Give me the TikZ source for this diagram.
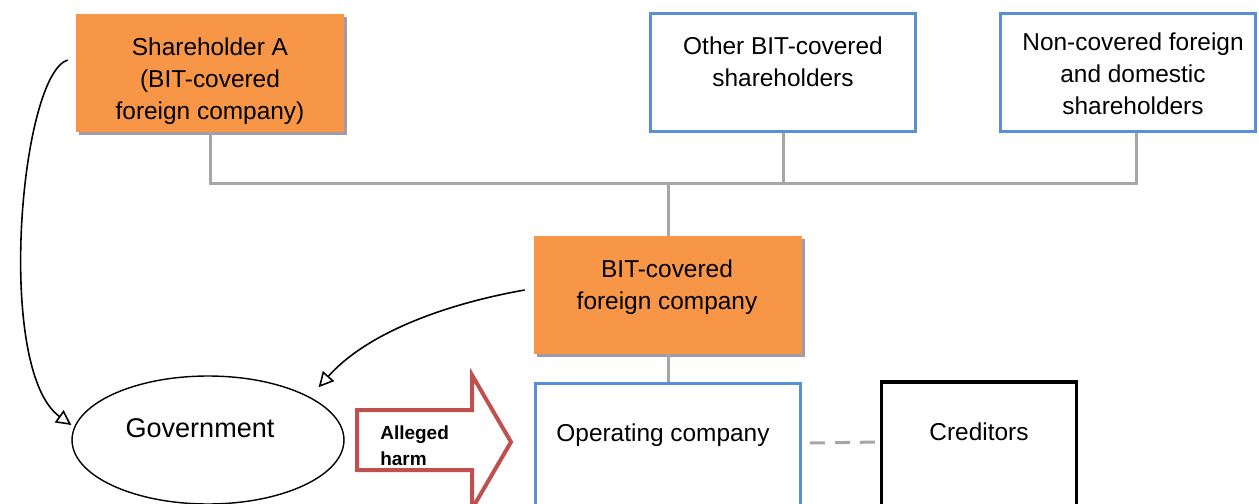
\documentclass[tikz,border=0pt]{standalone}
\usepackage{fontspec}
\setmainfont{Liberation Sans}
\usetikzlibrary{arrows.meta,shadows,shapes.geometric}
\definecolor{boxorange}{HTML}{F79646}
\definecolor{boxblue}{HTML}{5B8FD5}
\definecolor{harmred}{HTML}{C0504D}
\definecolor{linegray}{HTML}{A6A6A6}
\definecolor{shadowgray}{HTML}{A09BAA}
\begin{document}
\begin{tikzpicture}[x=0.02cm,y=-0.02cm,
    orgbox/.style={fill=boxorange, minimum width=5.36cm, minimum height=2.36cm, inner sep=0pt,
      drop shadow={shadow xshift=0.06cm, shadow yshift=-0.06cm, fill=shadowgray, opacity=1}},
    bluebox/.style={draw=boxblue, line width=0.06cm, minimum height=2.38cm, inner sep=0pt},
    txt/.style={align=center, font=\fontsize{13.9}{18.2}\selectfont, inner sep=0pt},
    conn/.style={draw=linegray, line width=0.06cm},
    curvearrow/.style={line width=0.9pt, -{Triangle[open, length=0.3cm, width=0.3cm]}}]
  \clip (0,0) rectangle (1259,504);
  \node[orgbox] (sa) at (210,73) {};
  \node[bluebox, minimum width=5.3cm] (obs) at (783,72.5) {};
  \node[bluebox, minimum width=5.1cm] (ncs) at (1128,72.5) {};
  \node[orgbox] (bfc) at (668,295) {};
  \node[bluebox, minimum width=5.3cm, minimum height=2.6cm] (opc) at (668,448) {};
  \node[draw, line width=0.07cm, minimum width=3.9cm, minimum height=2.6cm] (cred) at (979,447) {};
  \node[draw, ellipse, line width=0.8pt, inner sep=0pt, minimum width=5.44cm, minimum height=2.56cm] (gov) at (208,440) {};

  \node[txt] (saT) at (210,81) {Shareholder A\\(BIT-covered\\foreign company)};
  \node[txt] (obsT) at (783,62) {Other BIT-covered\\shareholders};
  \node[txt] (ncsT) at (1133,74) {Non-covered foreign\\and domestic\\shareholders};
  \node[txt] (bfcT) at (667,287) {BIT-covered\\foreign company};
  \node[txt] (opcT) at (663,435) {Operating company};
  \node[txt] (credT) at (979,432) {Creditors};
  \node[txt, font=\fontsize{15.4}{18}\selectfont] (govT) at (200,428) {Government};

  \coordinate (bus) at (668,183);
  \draw[conn] (sa.south) |- (bus);
  \draw[conn] ([xshift=0.16cm]ncs.south) |- (bus);
  \draw[conn] (obs.south) -- (obs.south |- bus);
  \draw[conn] (bus) -- (bfc.north);
  \draw[conn] (bfc.south) -- (opc.north);
  \draw[conn, dash pattern=on 0.3cm off 0.2cm] ([xshift=0.16cm,yshift=0.1cm]opc.east) -- ([yshift=0.1cm]cred.west);

  \draw[curvearrow] ([xshift=-0.16cm,yshift=0.26cm]sa.west) .. controls (20,75) and (-5,370) .. ([yshift=0.3cm]gov.west);
  \draw[curvearrow] ([xshift=-0.18cm,yshift=0.1cm]bfc.west) .. controls (440,305) and (365,335) .. ([xshift=0.28cm,yshift=0.14cm]gov.north east);

  \draw[harmred, line width=0.08cm] (357,410) -- (472,410) -- (472,375) -- (511,442) -- (472,509) -- (472,470) -- (357,470) -- cycle;
  \node[font=\bfseries\fontsize{10.8}{14.8}\selectfont, align=left, anchor=west, inner sep=0pt] (harm) at (380,446) {Alleged\\harm};
\end{tikzpicture}
\end{document}
